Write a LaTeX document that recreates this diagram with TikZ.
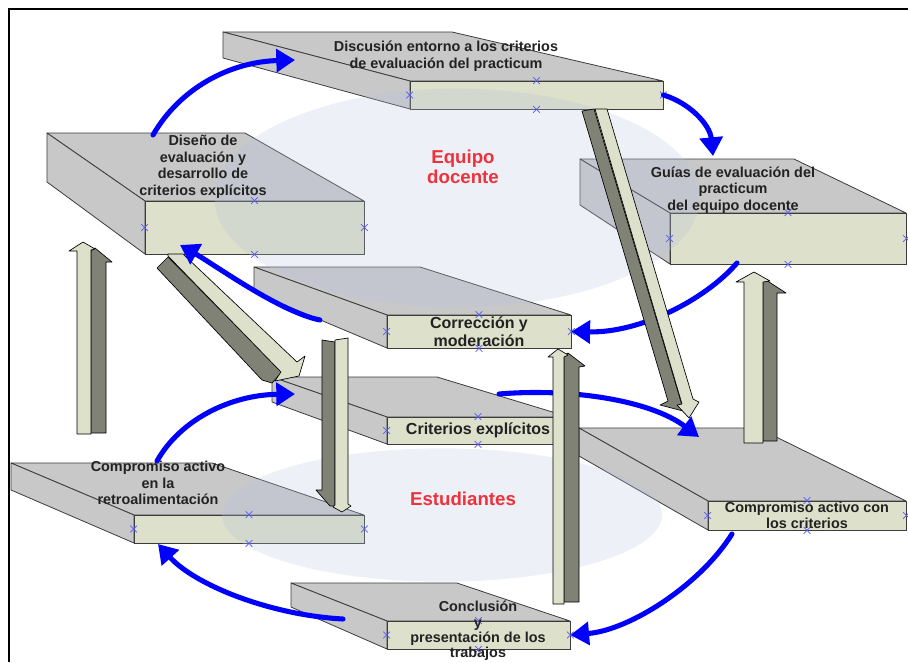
\documentclass[tikz,border=0pt]{standalone}
\usepackage{fontspec}
\setmainfont{Liberation Sans}
\usetikzlibrary{arrows.meta,fit,shapes.misc}

\definecolor{facec}{RGB}{221,224,202}
\definecolor{topc}{RGB}{200,200,200}
\definecolor{edgec}{RGB}{60,60,60}
\definecolor{darkc}{RGB}{128,130,118}
\definecolor{hazec}{RGB}{183,196,225}
\definecolor{redc}{RGB}{238,50,60}
\definecolor{markc}{RGB}{90,90,255}
\definecolor{textc}{RGB}{34,34,34}

\begin{document}
\begin{tikzpicture}[x=0.75pt,y=-0.75pt,
  topface/.style={fill=topc,draw=edgec,line width=0.6pt,line join=round},
  front/.style={draw=edgec,fill=facec,line width=0.6pt,inner sep=0pt},
  haze/.style={fill=hazec,fill opacity=0.25},
  barlight/.style={fill=facec,draw=black,line width=0.5pt,line join=round},
  barside/.style={fill=darkc,draw=black,line width=0.5pt,line join=round},
  flow/.style={draw=blue,line width=3.8pt,line cap=round,-{Triangle[length=14pt,width=17pt]}},
  lbl/.style={align=center,text=textc,inner sep=0pt,font=\fontsize{10.8}{12.4}\selectfont\bfseries},
  biglbl/.style={lbl,font=\fontsize{12}{13.5}\selectfont\bfseries},
  team/.style={align=center,text=redc,inner sep=0pt,font=\fontsize{14}{15}\selectfont\bfseries},
  xmark/.style={cross out,draw=markc,line width=0.5pt,minimum size=4.5pt,inner sep=0pt}]

\useasboundingbox (0,0) rectangle (908,662);

% frame
\draw[line width=1.5pt] (9,662) -- (9,9) -- (908,9);

% slabs: name / back left / back right / back y / side height / front face corners
\foreach \nm/\ax/\bx/\by/\th/\fx/\fy/\gx/\gy in {
  dis/223/452/32/26/410/81/663/109,
  des/47/245/133/49/145/201/364/254,
  gui/580/794/159/46/670/213/906/264,
  cor/254/420/267/25/387/315/571/348,
  cri/272/437/377/25/387/417/569/444,
  com/579/758/428/28/708/501/906/530,
  ret/11/212/463/27/134/515/364/543,
  con/291/457/583/24/387/621/570/649}
{
  \filldraw[topface] (\ax,\by) -- (\bx,\by) -- (\gx,\fy) -- (\fx,\fy) -- cycle;
  \filldraw[topface] (\ax,\by) -- (\fx,\fy) -- (\fx,\gy) -- (\ax,{\by+\th}) -- cycle;
  \node[front,fit={(\fx,\fy) (\gx,\gy)}] (\nm) {};
}

% the two groups
\fill[haze] (457,198) ellipse [x radius=182pt, y radius=82pt];
\fill[haze] (442,515) ellipse [x radius=165pt, y radius=50pt];

% connection points
\foreach \nm in {dis,des,gui,cor,cri,com,ret,con}
  \foreach \an in {north,south,east,west}
    \node[xmark] at (\nm.\an) {};

% ends of the curved arrows
\coordinate (desTop) at (153,135);
\coordinate (disSide) at (295,60);
\coordinate (guiTop) at (713,156);
\coordinate (guiLow) at (737,263);
\coordinate (corSide) at (320,320);
\coordinate (desLow) at (180,245);
\coordinate (criTop) at (499,394);
\coordinate (comTop) at (699,437);
\coordinate (comLow) at (732,534);
\coordinate (conTop) at (343,619);
\coordinate (retLow) at (158,544);
\coordinate (retTop) at (157,461);
\coordinate (criSide) at (295,394);

% curved arrows lying behind the pillars
\draw[flow] (guiLow) .. controls (705,300) and (640,333) .. (cor.east);
\draw[flow] (criTop) .. controls (570,388) and (650,400) .. (comTop);

% pillars
\filldraw[barside] (91,433) -- (91,251) -- (95,248) -- (112,262) -- (106,262) -- (106,433) -- cycle;
\filldraw[barlight] (77,434) -- (77,251) -- (69,251) -- (83,242) -- (95,249) -- (91,250) -- (91,434) -- cycle;

\filldraw[barside] (157,268) -- (168,257) -- (282,372) -- (272,383) -- (262,380) -- cycle;
\filldraw[barlight] (168,254) -- (183,254) -- (297,362) -- (305,356) -- (299,376) -- (275,381) -- (281,372) -- (168,256) -- cycle;

\filldraw[barside] (322,340) -- (335,342) -- (335,506) -- (330,506) -- (316,490) -- (322,490) -- cycle;
\filldraw[barlight] (335,340) -- (348,338) -- (348,504) -- (351,506) -- (342,512) -- (333,507) -- (335,505) -- cycle;

\filldraw[barside] (564,602) -- (564,355) -- (568,353) -- (585,366) -- (579,367) -- (579,602) -- cycle;
\filldraw[barlight] (553,604) -- (553,357) -- (548,357) -- (558,349) -- (568,355) -- (564,357) -- (564,604) -- cycle;

\filldraw[barside] (582,111) -- (594,109) -- (681,402) -- (683,411) -- (660,405) -- (668,401) -- cycle;
\filldraw[barlight] (595,109) -- (607,109) -- (693,399) -- (699,402) -- (689,418) -- (677,405) -- (682,404) -- cycle;

\filldraw[barside] (763,441) -- (763,282) -- (766,280) -- (786,293) -- (777,293) -- (777,441) -- cycle;
\filldraw[barlight] (744,443) -- (744,282) -- (736,282) -- (754,272) -- (770,281) -- (763,282) -- (763,443) -- cycle;

% curved arrows
\draw[flow] (desTop) .. controls (180,88) and (230,62) .. (disSide);
\draw[flow] (dis.east) .. controls (690,103) and (710,125) .. (guiTop);
\draw[flow] (corSide) .. controls (280,312) and (215,265) .. (desLow);
\draw[flow] (comLow) .. controls (700,585) and (630,630) .. (con.east);
\draw[flow] (conTop) .. controls (270,615) and (195,585) .. (retLow);
\draw[flow] (retTop) .. controls (180,420) and (230,395) .. (criSide);

% texts
\node[lbl] (tdis) at (446,56) {Discusión entorno a los criterios\\de evaluación del practicum};
\node[lbl] (tdes) at (203,167) {Diseño de\\evaluación y\\desarrollo de\\criterios explícitos};
\node[lbl] (tgui) at (733,190) {Guías de evaluación del\\practicum\\del equipo docente};
\node[biglbl] (tcor) at (cor.center) {Corrección y\\moderación};
\node[biglbl] (tcri) at (cri.center) {Criterios explícitos};
\node[lbl] (tcom) at (com.center) {Compromiso activo con\\los criterios};
\node[lbl] (tret) at (158,483) {Compromiso activo\\en la\\retroalimentación};
\node[lbl,font=\fontsize{10.8}{11.6}\selectfont\bfseries] (tcon) at (478,631) {Conclusión\\y\\presentación de los\\trabajos};
\node[team] (teq) at (463,167) {Equipo\\docente};
\node[team] (tes) at (463,499) {Estudiantes};
\end{tikzpicture}
\end{document}
